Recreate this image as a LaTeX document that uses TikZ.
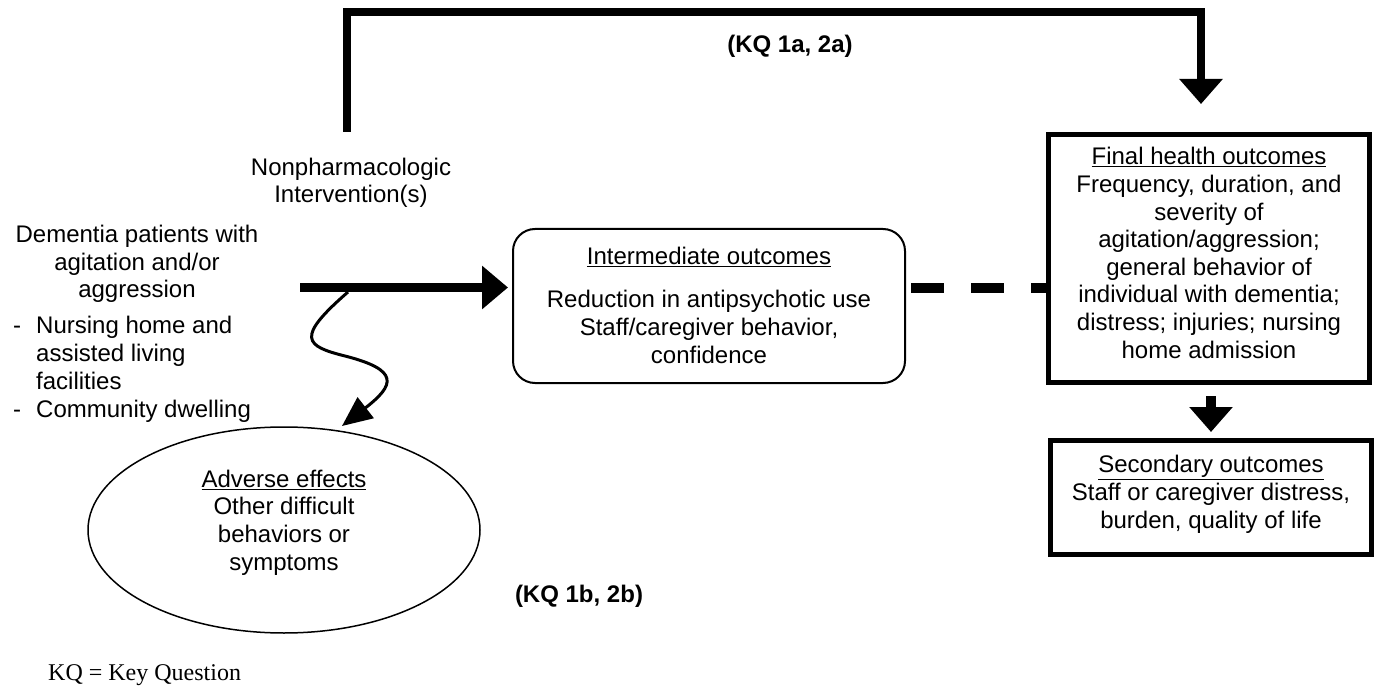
\documentclass[tikz,border=0pt]{standalone}
\usepackage{fontspec}
\setmainfont{Liberation Sans}
\newfontfamily\timesfont{Liberation Serif}
\usetikzlibrary{arrows.meta,shapes.geometric}
\begin{document}
\begin{tikzpicture}[x=1pt,y=-1pt,
  txt/.style={inner sep=0pt, anchor=base, align=center, font=\fontsize{24}{27.6}\selectfont},
  boldtxt/.style={txt, font=\fontsize{24}{27.6}\selectfont\bfseries},
  fat/.style={line width=8pt, line join=miter, -{Triangle[width=42pt,length=25pt]}},
  thickbox/.style={draw, line width=5pt, inner sep=0pt},
]
\useasboundingbox (0,0) rectangle (1379,687);

% shapes
\node[draw, line width=2pt, rounded corners=22pt, minimum width=392pt, minimum height=154pt, inner sep=0pt] (inter) at (709,306) {};
\node[thickbox, minimum width=321pt, minimum height=248pt] (final) at (1209,258.5) {};
\node[thickbox, minimum width=321pt, minimum height=114pt] (second) at (1211,497.5) {};
\node[draw, ellipse, line width=1.5pt, minimum width=392pt, minimum height=206pt, inner sep=0pt] (adverse) at (284,530) {};

% texts (anchor base = baseline of the last line)
\node[txt] (nonpharm) at (351,203) {Nonpharmacologic\\Intervention(s)};
\node[txt] (pop) at (137,298) {Dementia patients with\\agitation and/or\\aggression};
\node[txt, anchor=base west, align=left, font=\fontsize{24}{28}\selectfont] (list) at (13,417)
  {\makebox[23pt][l]{-}Nursing home and\\\hspace*{23pt}assisted living\\\hspace*{23pt}facilities\\\makebox[23pt][l]{-}Community dwelling};
\node[txt] (intertext) at (709,363) {\underline{Intermediate outcomes}\\[15.4pt]Reduction in antipsychotic use\\Staff/caregiver behavior,\\confidence};
\node[txt] (finaltext) at (1209,358) {\underline{Final health outcomes}\\Frequency, duration, and\\severity of\\agitation/aggression;\\general behavior of\\individual with dementia;\\distress; injuries; nursing\\home admission};
\node[txt] (secondtext) at (1211,528) {\underline{Secondary outcomes}\\Staff or caregiver distress,\\burden, quality of life};
\node[txt] (advtext) at (284,570) {\underline{Adverse effects}\\Other difficult\\behaviors or\\symptoms};
\node[boldtxt] (kqa) at (790,53) {(KQ 1a, 2a)};
\node[boldtxt] (kqb) at (579,602) {(KQ 1b, 2b)};
\node[inner sep=0pt, anchor=base west, font=\timesfont\fontsize{24}{28}\selectfont] (legend) at (48,680) {KQ = Key Question};

% connectors
\coordinate (brk) at (347,132);
\coordinate (brkend) at (1201,104);
\draw[fat] (brk) -- ++(0,-119.5) -| (brkend);

\coordinate (mstart) at (300,287.5);
\draw[line width=9pt, -{Triangle[width=42pt,length=26pt]}, shorten >=4pt] (mstart) -- (mstart -| inter.west);

\draw[line width=10pt, dash pattern=on 33pt off 27pt, shorten <=5pt] (inter.east |- mstart) -- (final.west |- mstart);

\coordinate (dtop) at (1211,396);
\draw[line width=10pt, -{Triangle[width=42pt,length=25pt]}, shorten >=6pt] (dtop) -- (second.north);

\coordinate (wstart) at (348,292);
\coordinate (wend) at (342,426);
\draw[line width=3pt, -{Triangle[width=26pt,length=30pt]}] (wstart) .. controls (295,338) and (305,346) .. (345,356) .. controls (400,370) and (395,385) .. (wend);
\end{tikzpicture}
\end{document}
